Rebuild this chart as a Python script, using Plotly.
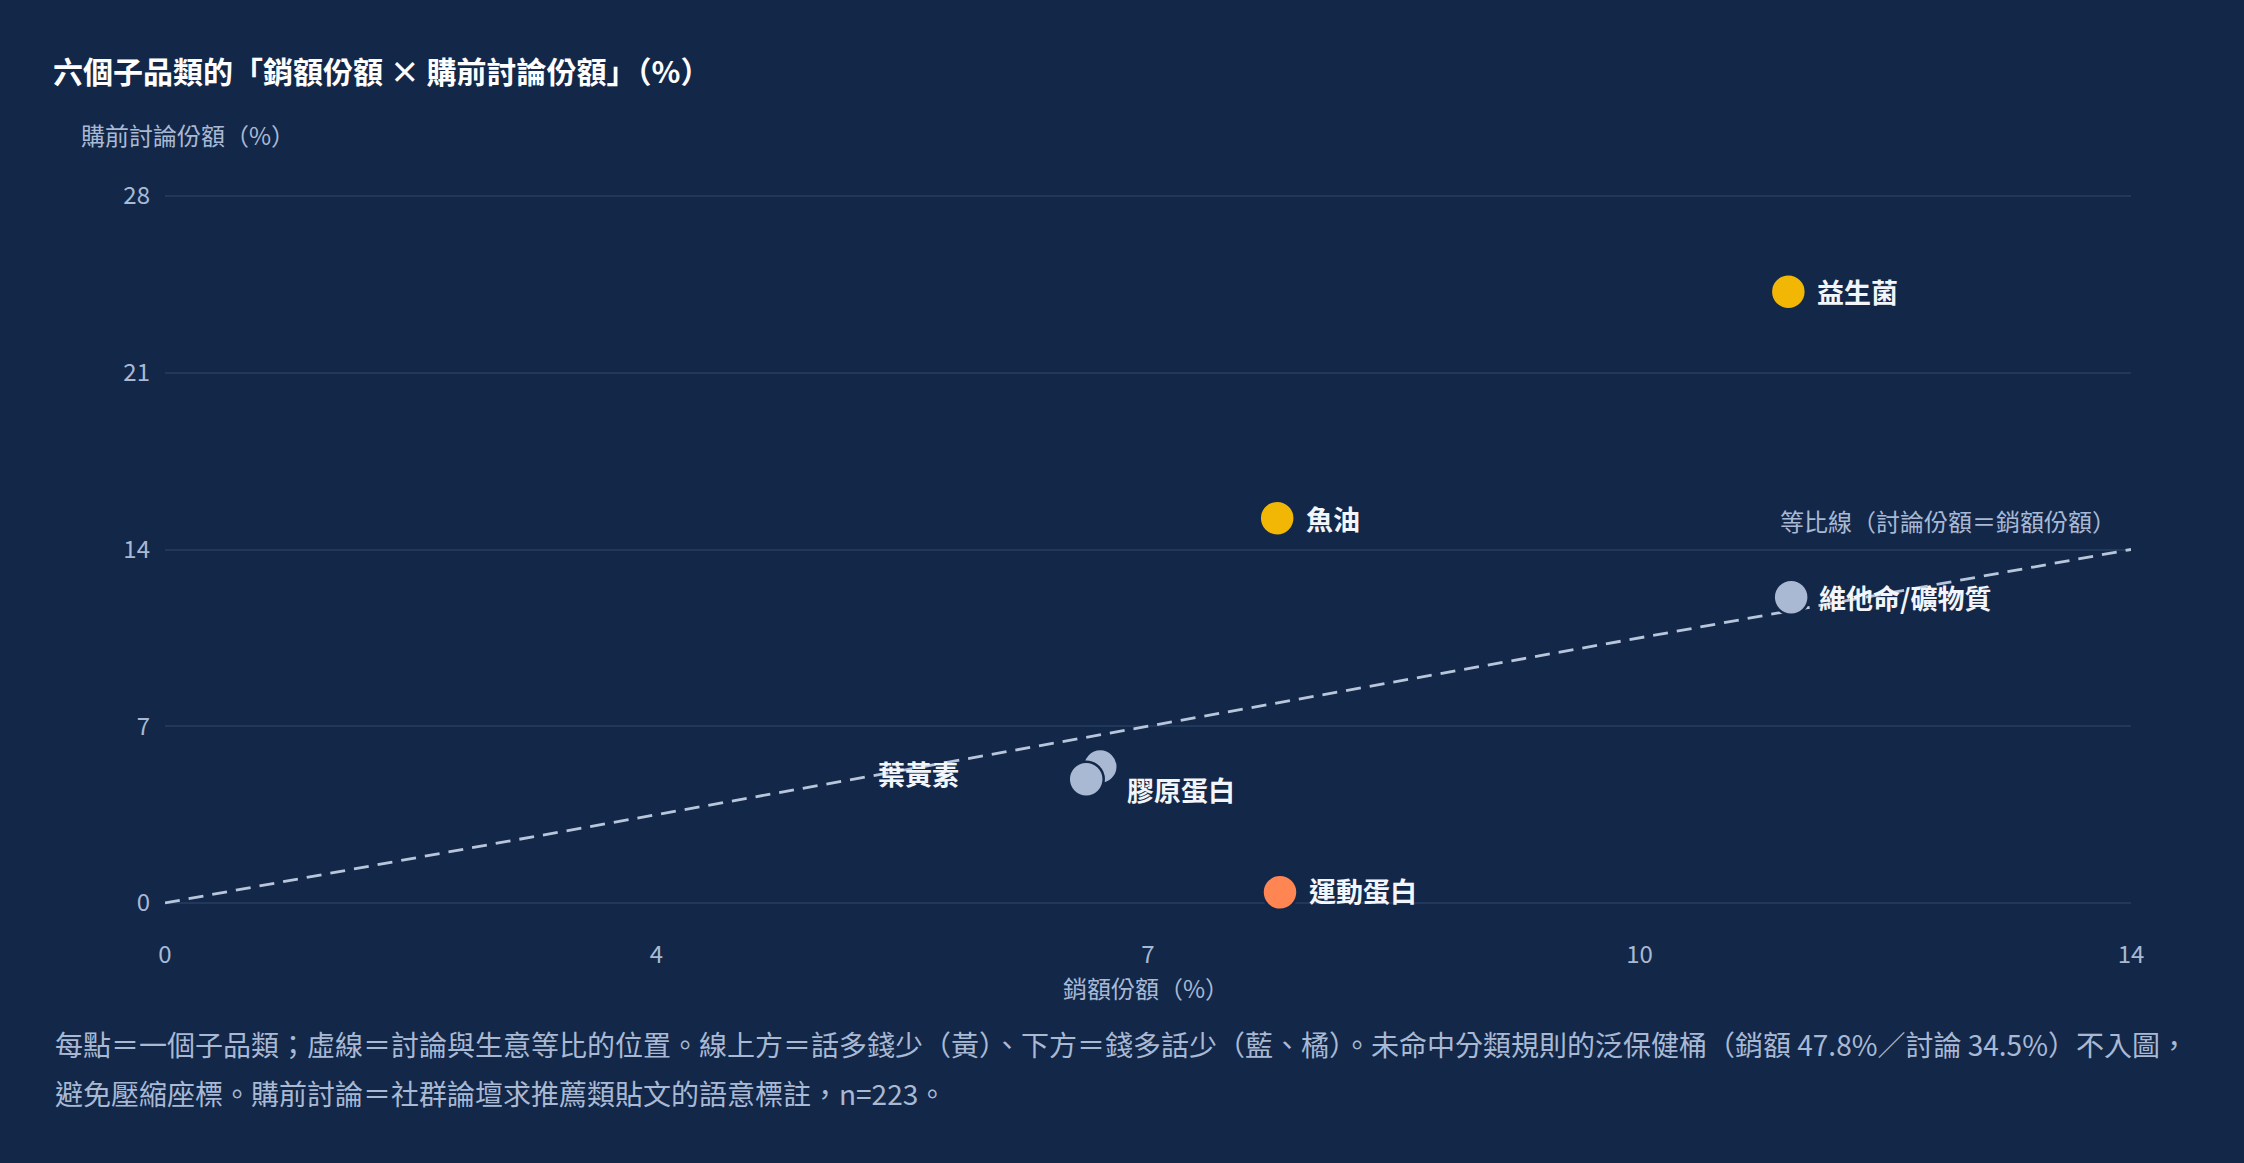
import plotly.graph_objects as go

# ---------------- data ----------------
CATEGORIES = ["益生菌", "魚油", "維他命/礦物質", "膠原蛋白", "葉黃素", "運動蛋白"]
SALES_SHARE = [11.56, 7.92, 11.58, 6.66, 6.56, 7.94]       # 銷額份額 (%)
DISCUSS_SHARE = [24.21, 15.24, 12.11, 5.40, 4.90, 0.42]    # 購前討論份額 (%)
POINT_GROUP = ["above", "above", "below", "below", "below", "sport"]

EQUAL_LINE_X = [0, 14]
EQUAL_LINE_Y = [0, 14]

X_TICKVALS = [0, 3.5, 7, 10.5, 14]
X_TICKTEXT = ["0", "4", "7", "10", "14"]
Y_TICKVALS = [0, 7, 14, 21, 28]
Y_TICKTEXT = ["0", "7", "14", "21", "28"]

TITLE = "六個子品類的「銷額份額 × 購前討論份額」（%）"
Y_TITLE = "購前討論份額（%）"
X_TITLE = "銷額份額（%）"
EQUAL_LABEL = "等比線（討論份額＝銷額份額）"
FOOT_1 = "每點＝一個子品類；虛線＝討論與生意等比的位置。線上方＝話多錢少（黃）、下方＝錢多話少（藍、橘）。未命中分類規則的泛保健桶（銷額 47.8%／討論 34.5%）不入圖，"
FOOT_2 = "避免壓縮座標。購前討論＝社群論壇求推薦類貼文的語意標註，n=223。"

# ---------------- style ----------------
BG = "#132849"
GRID = "#22385B"
MUTED = "#A9B9D4"
WHITE = "#F2F5FA"
GROUP_COLOR = {"above": "#F2B705", "below": "#A9B9D4", "sport": "#FF8552"}
FONT = "Noto Sans CJK TC"

# label placement (pixel offsets from marker centre)
LABEL_ANCHOR = ["left", "left", "left", "left", "right", "left"]
LABEL_XSHIFT = [27, 27, 26, 25, -125, 27]
LABEL_YSHIFT = [0, 0, 0, -23, 6, 2]

fig = go.Figure()

fig.add_trace(go.Scatter(
    x=EQUAL_LINE_X, y=EQUAL_LINE_Y, mode="lines",
    line=dict(color="#B8C6DC", width=2.8, dash="15px,9px"),
    hoverinfo="skip", showlegend=False,
))

fig.add_trace(go.Scatter(
    x=SALES_SHARE, y=DISCUSS_SHARE, mode="markers",
    marker=dict(size=35, color=[GROUP_COLOR[g] for g in POINT_GROUP],
                line=dict(color=BG, width=2.5), opacity=1),
    text=CATEGORIES, hovertemplate="%{text}<br>銷額 %{x}%<br>討論 %{y}%<extra></extra>",
    cliponaxis=False, showlegend=False,
))

annotations = []
for name, xv, yv, anc, dx, dy in zip(CATEGORIES, SALES_SHARE, DISCUSS_SHARE,
                                     LABEL_ANCHOR, LABEL_XSHIFT, LABEL_YSHIFT):
    annotations.append(dict(
        x=xv, y=yv, xref="x", yref="y", text=name, showarrow=False,
        xanchor=anc, yanchor="middle", xshift=dx, yshift=dy,
        font=dict(family=FONT, size=27, color=WHITE, weight=700),
    ))

annotations.append(dict(
    x=EQUAL_LINE_X[-1], y=EQUAL_LINE_Y[-1], xref="x", yref="y", text=EQUAL_LABEL,
    showarrow=False, xanchor="right", yanchor="middle", xshift=-13, yshift=29,
    font=dict(family=FONT, size=24, color=MUTED),
))

annotations.append(dict(
    x=0, y=1, xref="paper", yref="paper", text=Y_TITLE, showarrow=False,
    xanchor="left", yanchor="middle", xshift=-86, yshift=57,
    font=dict(family=FONT, size=24, color=MUTED),
))

annotations.append(dict(
    x=0.5, y=0, xref="paper", yref="paper", text=X_TITLE, showarrow=False,
    xanchor="center", yanchor="middle", xshift=-2, yshift=-79,
    font=dict(family=FONT, size=24, color=MUTED),
))

annotations.append(dict(
    x=0, y=0, xref="paper", yref="paper", text=FOOT_1, showarrow=False,
    xanchor="left", yanchor="middle", xshift=-112, yshift=-136,
    font=dict(family=FONT, size=28, color=MUTED),
))
annotations.append(dict(
    x=0, y=0, xref="paper", yref="paper", text=FOOT_2, showarrow=False,
    xanchor="left", yanchor="middle", xshift=-112, yshift=-185,
    font=dict(family=FONT, size=28, color=MUTED),
))

fig.update_layout(
    width=2244, height=1163,
    paper_bgcolor=BG, plot_bgcolor=BG,
    margin=dict(l=165, r=113, t=191, b=255, autoexpand=False),
    font=dict(family=FONT, color=MUTED, size=24),
    title=dict(text=TITLE, x=53 / 2244, xanchor="left", xref="container",
               y=1 - 72 / 1163, yref="container", yanchor="middle",
               font=dict(family=FONT, size=30, color="#FFFFFF", weight=700)),
    annotations=annotations,
    showlegend=False,
)

fig.update_xaxes(
    range=[0, 14], tickvals=X_TICKVALS, ticktext=X_TICKTEXT,
    showgrid=False, zeroline=False, showline=False, ticks="",
    tickfont=dict(family=FONT, size=24, color=MUTED),
    ticklabelstandoff=30,
)
fig.update_yaxes(
    range=[-0.2, 28.2], tickvals=Y_TICKVALS, ticktext=Y_TICKTEXT,
    showgrid=True, gridcolor=GRID, gridwidth=2, zeroline=False, showline=False, ticks="",
    tickfont=dict(family=FONT, size=24, color=MUTED),
    ticklabelstandoff=14,
)

fig.write_html(
    "out.html",
    config={"displayModeBar": False},
    post_script="document.body.style.margin='0px';document.body.style.overflow='hidden';",
)
